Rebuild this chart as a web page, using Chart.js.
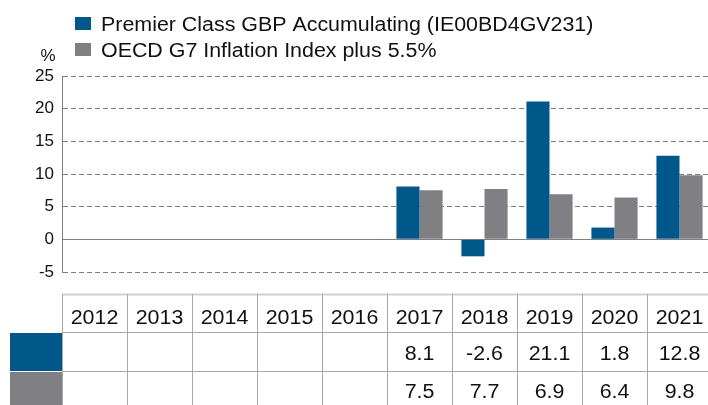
<!DOCTYPE html>
<html><head><meta charset="utf-8">
<script src="https://cdn.jsdelivr.net/npm/chart.js@4/dist/chart.umd.min.js"></script>
<style>
html,body{margin:0;padding:0;background:#fff;overflow:hidden;width:708px;height:405px}
#wrap{width:712px;height:405px;position:relative}
</style>
</head><body>
<div id="wrap"><canvas id="c"></canvas></div>
<script>
// ---- data ----
const categories = ['2012','2013','2014','2015','2016','2017','2018','2019','2020','2021'];
const fundReturns = [null,null,null,null,null,8.1,-2.6,21.1,1.8,12.8];
const benchmarkReturns = [null,null,null,null,null,7.5,7.7,6.9,6.4,9.8];
const seriesNames = ['Premier Class GBP Accumulating (IE00BD4GV231)','OECD G7 Inflation Index plus 5.5%'];
const seriesColors = ['#00588a','#808084'];
const yMin = -5, yMax = 25, yStep = 5;
const unitLabel = '%';

const FONT = '"Liberation Sans", Arial, sans-serif';
const TEXT_COLOR = '#111';
const SX = 1.07;

function sText(ctx, text, x, y, align, size, sx) {
  ctx.save();
  ctx.font = size + 'px ' + FONT;
  ctx.fillStyle = TEXT_COLOR;
  ctx.textBaseline = 'alphabetic';
  ctx.textAlign = align;
  ctx.translate(x, y);
  ctx.scale(sx, 1);
  ctx.fillText(text, 0, 0);
  ctx.restore();
}

const zeroLinePlugin = {
  id: 'zeroLine',
  beforeDatasetsDraw(chart) {
    const {ctx, chartArea} = chart;
    const y = Math.round(chart.scales.y.getPixelForValue(0)) + 0.5;
    ctx.save();
    ctx.strokeStyle = '#808080';
    ctx.lineWidth = 1;
    ctx.beginPath();
    ctx.moveTo(chartArea.left, y);
    ctx.lineTo(chartArea.right, y);
    ctx.stroke();
    ctx.restore();
  }
};

const extrasPlugin = {
  id: 'extras',
  afterDraw(chart) {
    const {ctx} = chart;
    const xs = chart.scales.x;
    const n = categories.length;
    const colW = (xs.right - xs.left) / n;
    // legend
    seriesNames.forEach((name, i) => {
      const cy = 23.7 + i * 26;
      ctx.fillStyle = seriesColors[i];
      ctx.fillRect(75, Math.round(cy - 6.5), 16, 13);
      sText(ctx, name, 101, cy + 7.2, 'left', 20, SX);
    });
    // unit label
    sText(ctx, unitLabel, 48, 61, 'center', 17, 1);

    // table
    const top = 294, r1 = 332, r2 = 371, bottom = 405;
    const left = xs.left, right = xs.right;
    // swatches
    ctx.fillStyle = seriesColors[0];
    ctx.fillRect(10, r1 + 1, left - 10, r2 - r1 - 1);
    ctx.fillStyle = seriesColors[1];
    ctx.fillRect(10, r2 + 1, left - 10, bottom - r2);
    // lines
    ctx.save();
    ctx.lineWidth = 2;
    ctx.strokeStyle = '#d0d0d0';
    ctx.beginPath();
    ctx.moveTo(left, top + 0.5); ctx.lineTo(right, top + 0.5);
    ctx.stroke();
    ctx.lineWidth = 1;
    ctx.strokeStyle = '#a8a8a8';
    ctx.beginPath();
    [r1, r2].forEach(yy => { ctx.moveTo(left, yy + 0.5); ctx.lineTo(right, yy + 0.5); });
    for (let i = 0; i <= n; i++) {
      const xx = Math.round(left + i * colW) + 0.5;
      ctx.moveTo(xx, top); ctx.lineTo(xx, bottom);
    }
    ctx.stroke();
    ctx.restore();
    // texts
    categories.forEach((c, i) => {
      const cx = xs.getPixelForValue(i);
      sText(ctx, c, cx, 324, 'center', 20, SX);
      if (fundReturns[i] !== null) sText(ctx, fundReturns[i].toFixed(1), cx, 360, 'center', 20, SX);
      if (benchmarkReturns[i] !== null) sText(ctx, benchmarkReturns[i].toFixed(1), cx, 398, 'center', 20, SX);
    });
  }
};

new Chart(document.getElementById('c'), {
  type: 'bar',
  data: {
    labels: categories,
    datasets: [
      {label: seriesNames[0], data: fundReturns, backgroundColor: seriesColors[0]},
      {label: seriesNames[1], data: benchmarkReturns, backgroundColor: seriesColors[1]}
    ]
  },
  options: {
    responsive: true,
    maintainAspectRatio: false,
    animation: false,
    devicePixelRatio: 1,
    layout: {padding: {top: 76, bottom: 133, left: 0, right: 0}},
    datasets: {bar: {categoryPercentage: 0.71, barPercentage: 1}},
    plugins: {legend: {display: false}, tooltip: {enabled: false}},
    scales: {
      x: {display: false},
      y: {
        min: yMin, max: yMax,
        afterFit(s) { s.width = 62; },
        ticks: {stepSize: yStep, color: TEXT_COLOR, padding: 8, font: {family: FONT, size: 17}},
        grid: {drawTicks: false, color: c => (c.tick && c.tick.value === 0) ? 'rgba(0,0,0,0)' : '#7f7f7f', lineWidth: 1},
        border: {display: true, color: '#808080', width: 1, dash: [5, 3]}
      }
    }
  },
  plugins: [zeroLinePlugin, extrasPlugin]
});
</script>
</body></html>
